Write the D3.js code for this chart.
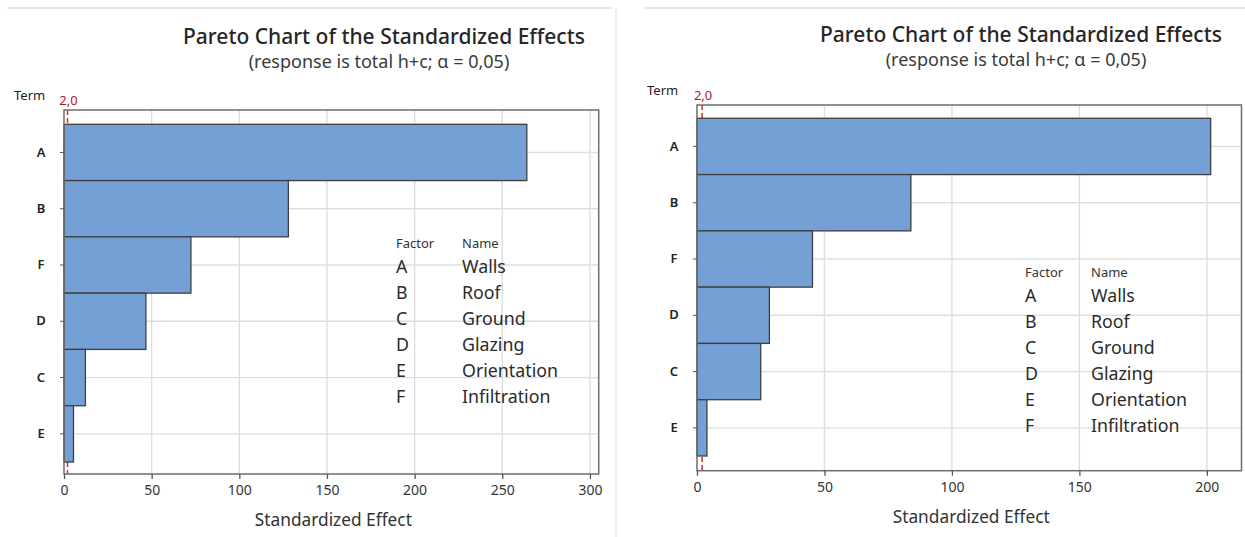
<!DOCTYPE html>
<meta charset="utf-8">
<title>Pareto Chart of the Standardized Effects</title>
<style>
body { margin: 0; background: #fff; }
svg { display: block; font-family: "Noto Sans", "Open Sans", sans-serif; }
.grid line { stroke: #dedede; stroke-width: 1.4; }
.bar { fill: #74a0d5; stroke: #3f3f3f; stroke-width: 1.3; }
.frame { fill: none; stroke: #6e6e6e; stroke-width: 1.5; }
</style>
<script src="https://d3js.org/d3.v7.min.js"></script>
<div id="chart"></div>
<script>

// terms sorted by effect size, same order in both charts
var termsLeft = ["A", "B", "F", "D", "C", "E"],
    effectsLeft = [264, 128, 72.4, 46.7, 12.2, 5.4],
    ticksLeft = [0, 50, 100, 150, 200, 250, 300];

var termsRight = ["A", "B", "F", "D", "C", "E"],
    effectsRight = [201.5, 83.9, 45.3, 28.4, 25.0, 3.9],
    ticksRight = [0, 50, 100, 150, 200];

var factorCodes = ["A", "B", "C", "D", "E", "F"],
    factorNames = ["Walls", "Roof", "Ground", "Glazing", "Orientation", "Infiltration"];

var refValue = 2.0,
    refLabel = "2,0",
    titleText = "Pareto Chart of the Standardized Effects",
    subtitleText = "(response is total h+c; \u03b1 = 0,05)",
    xTitle = "Standardized Effect";

var width = 1245, height = 537;

var svg = d3.select("#chart").append("svg")
    .attr("width", width)
    .attr("height", height);

// panel borders
svg.append("line").attr("x1", 7).attr("x2", 612).attr("y1", 8).attr("y2", 8)
    .attr("stroke", "#e6e6e6").attr("stroke-width", 2);
svg.append("line").attr("x1", 616).attr("x2", 616).attr("y1", 8).attr("y2", 537)
    .attr("stroke", "#f0f0f0").attr("stroke-width", 2);
svg.append("line").attr("x1", 644).attr("x2", 1245).attr("y1", 8).attr("y2", 8)
    .attr("stroke", "#e6e6e6").attr("stroke-width", 2);

function panel(p) {
  var g = svg.append("g");

  var x = d3.scaleLinear()
      .domain([0, p.xMax])
      .range([p.left, p.right]);

  var y = d3.scaleBand()
      .domain(p.terms)
      .range([p.top + p.padTop, p.bottom - p.padBottom])
      .padding(0);

  // grid
  var grid = g.append("g").attr("class", "grid");
  grid.selectAll(".vx")
      .data(p.ticks.filter(function(d) { return d > 0; }))
      .enter().append("line")
      .attr("x1", function(d) { return x(d); })
      .attr("x2", function(d) { return x(d); })
      .attr("y1", p.top)
      .attr("y2", p.bottom);
  grid.selectAll(".hy")
      .data(p.terms)
      .enter().append("line")
      .attr("x1", p.left)
      .attr("x2", p.right)
      .attr("y1", function(d) { return y(d) + y.bandwidth() / 2; })
      .attr("y2", function(d) { return y(d) + y.bandwidth() / 2; });

  // reference line
  g.append("line")
      .attr("x1", x(refValue)).attr("x2", x(refValue))
      .attr("y1", p.top).attr("y2", p.bottom)
      .attr("stroke", "#d42a2a")
      .attr("stroke-width", 1.5)
      .attr("stroke-dasharray", "5,3");
  g.append("text")
      .attr("x", x(refValue) + 1)
      .attr("y", p.top - 5)
      .attr("text-anchor", "middle")
      .attr("fill", "#b01c1c")
      .style("font-size", "13px")
      .text(refLabel);

  // bars
  g.selectAll(".bar")
      .data(p.effects)
      .enter().append("rect")
      .attr("class", "bar")
      .attr("x", x(0))
      .attr("y", function(d, i) { return y(p.terms[i]); })
      .attr("width", function(d) { return x(d) - x(0); })
      .attr("height", y.bandwidth());

  g.append("rect")
      .attr("class", "frame")
      .attr("x", p.left).attr("y", p.top)
      .attr("width", p.right - p.left)
      .attr("height", p.bottom - p.top);

  // x axis
  var xa = g.append("g")
      .attr("transform", "translate(0," + p.bottom + ")")
      .call(d3.axisBottom(x).tickValues(p.ticks).tickSize(5).tickPadding(6));
  xa.select(".domain").remove();
  xa.selectAll("line").attr("stroke", "#555").attr("stroke-width", 1.3);
  xa.selectAll("text").attr("fill", "#333").style("font-size", "14px")
      .style("font-family", "'Noto Sans', sans-serif");

  // y axis
  var ya = g.append("g")
      .attr("transform", "translate(" + p.left + ",0)")
      .call(d3.axisLeft(y).tickSize(4).tickPadding(0));
  ya.select(".domain").remove();
  ya.selectAll("line").attr("stroke", "#555");
  ya.selectAll("text")
      .attr("x", -23)
      .attr("text-anchor", "middle")
      .attr("fill", "#222")
      .style("font-size", "13px")
      .style("font-weight", "600")
      .style("font-family", "'Noto Sans', sans-serif");

  g.append("text")
      .attr("x", p.termX)
      .attr("y", p.top - 10)
      .attr("fill", "#222")
      .style("font-size", "13px")
      .text("Term");

  // titles
  g.append("text")
      .attr("x", p.titleX)
      .attr("y", p.titleY)
      .attr("text-anchor", "middle")
      .attr("fill", "#262626")
      .style("font-size", "21px")
      .style("font-weight", "500")
      .text(titleText);
  g.append("text")
      .attr("x", p.titleX - 5)
      .attr("y", p.titleY + 24)
      .attr("text-anchor", "middle")
      .attr("fill", "#3a3a3a")
      .style("font-size", "18px")
      .text(subtitleText);

  g.append("text")
      .attr("x", (p.left + p.right) / 2 + 2)
      .attr("y", p.bottom + 52)
      .attr("text-anchor", "middle")
      .attr("fill", "#333")
      .style("font-size", "17.3px")
      .text(xTitle);

  // legend
  var lg = g.append("g").attr("transform", "translate(" + p.legX + "," + p.legY + ")");
  lg.append("text").attr("x", 0).attr("y", 0).attr("fill", "#333")
      .style("font-size", "13px").text("Factor");
  lg.append("text").attr("x", 66).attr("y", 0).attr("fill", "#333")
      .style("font-size", "13px").text("Name");
  lg.selectAll(".code")
      .data(factorCodes)
      .enter().append("text")
      .attr("x", 0)
      .attr("y", function(d, i) { return 25 + i * 26; })
      .attr("fill", "#2b2b2b")
      .style("font-size", "17.8px")
      .text(function(d) { return d; });
  lg.selectAll(".name")
      .data(factorNames)
      .enter().append("text")
      .attr("x", 66)
      .attr("y", function(d, i) { return 25 + i * 26; })
      .attr("fill", "#2b2b2b")
      .style("font-size", "17.8px")
      .text(function(d) { return d; });
}

panel({
  terms: termsLeft, effects: effectsLeft, ticks: ticksLeft, xMax: 305,
  left: 64, right: 598.7, top: 110, bottom: 474, padTop: 14.3, padBottom: 12,
  termX: 14, titleX: 384, titleY: 44, legX: 396, legY: 248
});

panel({
  terms: termsRight, effects: effectsRight, ticks: ticksRight, xMax: 213.6,
  left: 697, right: 1241.5, top: 105, bottom: 470.7, padTop: 13.3, padBottom: 14.7,
  termX: 647, titleX: 1021, titleY: 42, legX: 1025, legY: 277
});

</script>
